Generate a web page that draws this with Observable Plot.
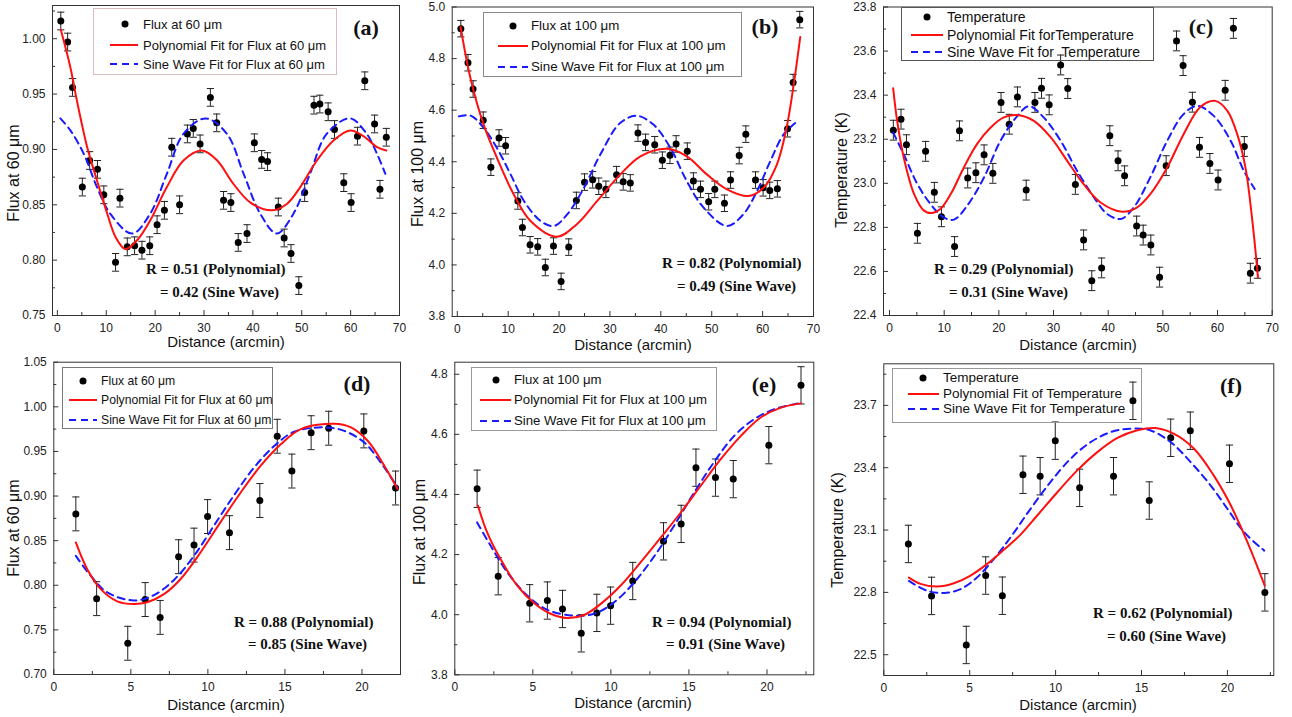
<!DOCTYPE html>
<html><head><meta charset="utf-8">
<script src="https://cdn.jsdelivr.net/npm/d3@7"></script>
<script src="https://cdn.jsdelivr.net/npm/@observablehq/plot@0.6"></script>
<style>
body{margin:0;background:#fff;}
#page{position:relative;width:1292px;height:717px;overflow:hidden;background:#fff;font-family:"Liberation Sans",Arial,sans-serif;color:#111;}
.t{position:absolute;white-space:pre;line-height:1;}
.serif{font-family:"Liberation Serif","Times New Roman",serif;font-weight:bold;}
svg.plot{position:absolute;overflow:visible;}
</style></head><body><div id="page"></div>
<script>
// ---------- DATA ----------
const topDist = [0.7, 2.1, 3.1, 5.1, 6.6, 8.2, 9.5, 11.9, 12.8, 14.3, 15.8, 17.3, 18.9, 20.4, 21.9, 23.4, 25.0, 26.6, 27.8, 29.2, 31.3, 32.6, 34.0, 35.5, 37.0, 38.8, 40.3, 41.8, 43.0, 45.2, 46.4, 47.8, 49.4, 50.6, 52.5, 53.7, 55.4, 56.7, 58.6, 60.1, 61.4, 62.9, 64.9, 66.0, 67.3];
const flux60Top = [1.016, 0.997, 0.956, 0.866, 0.890, 0.882, 0.859, 0.798, 0.856, 0.812, 0.813, 0.809, 0.813, 0.832, 0.845, 0.902, 0.850, 0.914, 0.919, 0.905, 0.947, 0.924, 0.854, 0.852, 0.816, 0.824, 0.906, 0.891, 0.889, 0.848, 0.820, 0.806, 0.777, 0.861, 0.940, 0.941, 0.934, 0.918, 0.870, 0.852, 0.912, 0.962, 0.923, 0.864, 0.911];
const flux100Top = [4.916, 4.784, 4.682, 4.561, 4.379, 4.492, 4.462, 4.248, 4.145, 4.078, 4.070, 3.990, 4.073, 3.936, 4.069, 4.250, 4.321, 4.330, 4.305, 4.293, 4.350, 4.322, 4.318, 4.511, 4.475, 4.466, 4.406, 4.425, 4.469, 4.441, 4.325, 4.293, 4.245, 4.293, 4.239, 4.329, 4.424, 4.507, 4.329, 4.299, 4.289, 4.295, 4.528, 4.707, 4.951];
const tempTop = [23.241, 23.291, 23.175, 22.773, 23.145, 22.959, 22.848, 22.713, 23.238, 23.024, 23.048, 23.129, 23.045, 23.367, 23.268, 23.392, 22.969, 23.367, 23.431, 23.356, 23.537, 23.430, 22.995, 22.743, 22.558, 22.616, 23.216, 23.102, 23.034, 22.806, 22.765, 22.720, 22.574, 23.080, 23.646, 23.534, 23.368, 23.163, 23.090, 23.015, 23.422, 23.703, 23.167, 22.592, 22.614];

const botDist = [1.43, 2.78, 4.8, 5.93, 6.9, 8.1, 9.1, 9.98, 11.4, 13.37, 14.5, 15.45, 16.7, 17.84, 20.12, 22.18];
const flux60Bot = [0.880, 0.785, 0.735, 0.784, 0.764, 0.832, 0.845, 0.877, 0.859, 0.895, 0.967, 0.928, 0.971, 0.976, 0.973, 0.909];
const flux100Bot = [4.419, 4.128, 4.038, 4.047, 4.019, 3.938, 4.006, 4.030, 4.112, 4.244, 4.302, 4.489, 4.456, 4.451, 4.564, 4.763];
const tempBot = [23.033, 22.783, 22.547, 22.881, 22.784, 23.366, 23.359, 23.530, 23.303, 23.359, 23.722, 23.242, 23.544, 23.578, 23.419, 22.800];

// error bar half-lengths per panel a..f
const errHalf = [0.008, 0.032, 0.045, 0.019, 0.062, 0.09];

// fitted curves
const polyAx = [0.7, 2.66, 4, 6.1, 8.1, 10.2, 11.9, 13.9, 16.3, 19, 22.4, 25.8, 29.6, 32.7, 36, 39.5, 43.9, 47, 49.7, 53.1, 56.5, 59.9, 62.6, 65.4, 67.3];
const polyAy = [1.008, 0.974, 0.944, 0.902, 0.872, 0.842, 0.821, 0.810, 0.818, 0.836, 0.866, 0.890, 0.899, 0.890, 0.869, 0.852, 0.845, 0.851, 0.866, 0.890, 0.908, 0.917, 0.912, 0.902, 0.899];
const sineAx = [0.6, 2.7, 5.4, 8.1, 10.8, 15.3, 19, 22.4, 25.8, 30.3, 34.7, 38.1, 41.5, 44.9, 48.3, 51.7, 55.1, 59.9, 63.3, 65.4, 67.1];
const sineAy = [0.928, 0.917, 0.896, 0.866, 0.842, 0.824, 0.842, 0.878, 0.914, 0.928, 0.914, 0.878, 0.842, 0.824, 0.842, 0.878, 0.914, 0.928, 0.914, 0.896, 0.878];

const polyBx = [0.65, 2.6, 5.2, 7.8, 11.1, 14.4, 19.6, 23.5, 27.5, 32, 36, 41.2, 45.1, 49.1, 53, 57.2, 60.2, 62.8, 64.7, 66.1, 67.4];
const polyBy = [4.923, 4.723, 4.543, 4.415, 4.273, 4.170, 4.109, 4.158, 4.248, 4.350, 4.421, 4.450, 4.421, 4.350, 4.293, 4.267, 4.299, 4.389, 4.531, 4.698, 4.884];
const sineBx = [0.3, 2.6, 5.2, 7.8, 10.5, 13.1, 16.4, 19, 21.6, 24.9, 28.1, 32, 35.3, 38.6, 41.9, 45.1, 48.4, 53, 56.2, 58.9, 61.5, 64.1, 66.4];
const sineBy = [4.576, 4.579, 4.531, 4.453, 4.350, 4.248, 4.170, 4.151, 4.196, 4.299, 4.428, 4.550, 4.578, 4.543, 4.453, 4.325, 4.222, 4.151, 4.196, 4.286, 4.402, 4.505, 4.550];

const polyCx = [0.67, 1.4, 2.6, 4.5, 6.3, 7.8, 9.3, 11.2, 13.6, 16, 18.5, 20.9, 23.7, 26.4, 29.5, 32.5, 35.5, 38.6, 42.6, 45.3, 47.7, 50.8, 53.8, 56.9, 59.6, 61.8, 63.6, 65.1, 66.3, 67.4];
const polyCy = [23.431, 23.283, 23.117, 22.951, 22.876, 22.865, 22.883, 22.951, 23.072, 23.178, 23.253, 23.299, 23.309, 23.283, 23.208, 23.102, 22.996, 22.913, 22.871, 22.891, 22.951, 23.072, 23.223, 23.347, 23.374, 23.329, 23.223, 23.072, 22.845, 22.574];
const sineCx = [0.67, 2.6, 5.1, 7.5, 9.9, 11.8, 14.2, 17.3, 20.3, 23.4, 25.5, 28.2, 31.3, 34.3, 37.4, 39.8, 42.3, 44.7, 47.7, 50.8, 53.8, 56.3, 59.3, 62.4, 64.8, 66.8];
const sineCy = [23.23, 23.132, 22.996, 22.906, 22.845, 22.835, 22.898, 23.027, 23.193, 23.306, 23.350, 23.299, 23.193, 23.057, 22.936, 22.861, 22.838, 22.891, 23.027, 23.193, 23.314, 23.351, 23.306, 23.193, 23.057, 22.974];

const polyDx = [1.43, 2.17, 3.03, 4.12, 5.2, 6.07, 7.15, 8.23, 9.53, 10.83, 12.13, 13.43, 14.73, 16.03, 18.2, 19.28, 20.37, 21.45, 22.3];
const polyDy = [0.848, 0.818, 0.796, 0.782, 0.779, 0.781, 0.790, 0.807, 0.837, 0.871, 0.904, 0.934, 0.958, 0.975, 0.981, 0.977, 0.962, 0.934, 0.908];
const sineDx = [1.43, 2.38, 3.47, 5.2, 6.5, 7.8, 9.1, 10.4, 11.7, 13, 14.3, 15.6, 17.55, 18.85, 20.15, 21.2, 22.3];
const sineDy = [0.833, 0.811, 0.792, 0.783, 0.789, 0.806, 0.833, 0.867, 0.901, 0.932, 0.956, 0.972, 0.977, 0.973, 0.960, 0.938, 0.910];

const polyEx = [1.48, 2.07, 2.93, 4.0, 5.07, 6.14, 7.2, 8.28, 9.35, 10.63, 11.9, 13.2, 14.48, 15.76, 17.05, 18.33, 19.6, 20.9, 22.18];
const polyEy = [4.363, 4.274, 4.185, 4.097, 4.039, 4.003, 3.989, 3.999, 4.036, 4.097, 4.174, 4.257, 4.340, 4.429, 4.518, 4.595, 4.656, 4.689, 4.703];
const sineEx = [1.43, 2.29, 3.36, 4.64, 5.93, 7.64, 8.92, 10.2, 11.5, 12.8, 14.05, 15.34, 16.6, 17.9, 19.2, 20.5, 22.0];
const sineEy = [4.307, 4.230, 4.141, 4.064, 4.016, 3.997, 4.003, 4.041, 4.108, 4.196, 4.296, 4.407, 4.507, 4.595, 4.651, 4.684, 4.703];

const polyFx = [1.46, 2.14, 3.1, 4.08, 5.05, 6.02, 7.0, 7.96, 8.93, 10.1, 11.26, 12.43, 13.6, 14.76, 15.8, 16.9, 18.06, 19.2, 20.2, 21.17, 22.17];
const polyFy = [22.871, 22.841, 22.828, 22.844, 22.881, 22.937, 23.006, 23.078, 23.170, 23.282, 23.387, 23.475, 23.543, 23.580, 23.591, 23.563, 23.491, 23.363, 23.218, 23.041, 22.833];
const sineFx = [1.46, 2.52, 3.5, 4.47, 5.44, 6.41, 7.38, 8.54, 9.7, 10.87, 12.04, 13.2, 14.37, 15.5, 16.7, 17.86, 19.03, 20.0, 20.97, 22.14];
const sineFy = [22.855, 22.808, 22.797, 22.816, 22.873, 22.961, 23.065, 23.202, 23.331, 23.443, 23.523, 23.571, 23.588, 23.580, 23.523, 23.427, 23.314, 23.202, 23.090, 23.001];

// tick values
const xTicksTop = [0, 10, 20, 30, 40, 50, 60, 70];
const xMinorTop = [5, 15, 25, 35, 45, 55, 65];
const xTicksBot = [0, 5, 10, 15, 20];
const xMinorBot = [2.5, 7.5, 12.5, 17.5, 22.5];
const yTicksA = [0.75, 0.80, 0.85, 0.90, 0.95, 1.00];
const yMinorA = [0.775, 0.825, 0.875, 0.925, 0.975, 1.025];
const yTicksB = [3.8, 4.0, 4.2, 4.4, 4.6, 4.8, 5.0];
const yMinorB = [3.9, 4.1, 4.3, 4.5, 4.7, 4.9];
const yTicksC = [22.4, 22.6, 22.8, 23.0, 23.2, 23.4, 23.6, 23.8];
const yMinorC = [22.5, 22.7, 22.9, 23.1, 23.3, 23.5, 23.7];
const yTicksD = [0.70, 0.75, 0.80, 0.85, 0.90, 0.95, 1.00, 1.05];
const yMinorD = [0.725, 0.775, 0.825, 0.875, 0.925, 0.975, 1.025];
const yTicksE = [3.8, 4.0, 4.2, 4.4, 4.6, 4.8];
const yMinorE = [3.9, 4.1, 4.3, 4.5, 4.7];
const yTicksF = [22.5, 22.8, 23.1, 23.4, 23.7];
const yMinorF = [22.65, 22.95, 23.25, 23.55, 23.85];

// texts
const xTitle = "Distance (arcmin)";
const yTitles = ["Flux at 60 \u03bcm", "Flux at 100 \u03bcm", "Temperature (K)", "Flux at 60 \u03bcm", "Flux at 100 \u03bcm", "Temperature (K)"];
const legendTexts = [
  ["Flux at 60 \u03bcm", "Polynomial Fit for Flux at 60 \u03bcm", "Sine Wave Fit for Flux at 60 \u03bcm"],
  ["Flux at 100 \u03bcm", "Polynomial Fit for Flux at 100 \u03bcm", "Sine Wave Fit for Flux at 100 \u03bcm"],
  ["Temperature", "Polynomial Fit forTemperature", "Sine Wave Fit for  Temperature"],
  ["Flux at 60 \u03bcm", "Polynomial Fit for Flux at 60 \u03bcm", "Sine Wave Fit for Flux at 60 \u03bcm"],
  ["Flux at 100 \u03bcm", "Polynomial Fit for Flux at 100 \u03bcm", "Sine Wave Fit for Flux at 100 \u03bcm"],
  ["Temperature", "Polynomial Fit of Temperature", "Sine Wave Fit for Temperature"]
];
const rPoly = ["0.51", "0.82", "0.29", "0.88", "0.94", "0.62"];
const rSine = ["0.42", "0.49", "0.31", "0.85", "0.91", "0.60"];
const panelLabels = ["(a)", "(b)", "(c)", "(d)", "(e)", "(f)"];

// ---------- LAYOUT ----------
const f2 = d3.format(".2f"), f1 = d3.format(".1f");
const panels = [
  {svg:[0,0,430,355], m:[5,31,40,52], xd:[-1,70], yd:[0.75,1.03], xt:xTicksTop, xm:xMinorTop, yt:yTicksA, ym:yMinorA, fmt:f2,
   dist:topDist, vals:flux60Top, px:polyAx, py:polyAy, sx:sineAx, sy:sineAy,
   leg:{box:[93,8,337,75], border:"#d9bcbc", dot:125, l1:110, l2:138, tx:143, rows:[24,45,64], fs:13},
   r1:[146,269], r2:[160,292], lab:[366,28], xT:[226,341], yT:[14,173]},
  {svg:[420,0,440,355], m:[6.5,47,39,31.7], xd:[-1,70], yd:[3.8,5.0], xt:xTicksTop, xm:xMinorTop, yt:yTicksB, ym:yMinorB, fmt:f1,
   dist:topDist, vals:flux100Top, px:polyBx, py:polyBy, sx:sineBx, sy:sineBy,
   leg:{box:[483,12,742,77], border:"#8a8a8a", dot:513, l1:498, l2:528, tx:531, rows:[26,46,67], fs:13.3},
   r1:[662,263], r2:[677,286], lab:[765,27], xT:[633,344], yT:[418,174]},
  {svg:[850,0,442,355], m:[6.5,20.3,40,33], xd:[-1.1,70], yd:[22.4,23.8], xt:xTicksTop, xm:xMinorTop, yt:yTicksC, ym:yMinorC, fmt:f1,
   dist:topDist, vals:tempTop, px:polyCx, py:polyCy, sx:sineCx, sy:sineCy,
   leg:{box:[901,7,1154,61], border:"#555", dot:927, l1:911, l2:943, tx:947, rows:[17,35,52], fs:14},
   r1:[934,269], r2:[949,292], lab:[1201,27], xT:[1078,344], yT:[842,170]},
  {svg:[0,355,430,362], m:[6.7,30,43,53.3], xd:[0,22.5], yd:[0.70,1.05], xt:xTicksBot, xm:xMinorBot, yt:yTicksD, ym:yMinorD, fmt:f2,
   dist:botDist, vals:flux60Bot, px:polyDx, py:polyDy, sx:sineDx, sy:sineDy,
   leg:{box:[62,367,273,429], border:"#777", dot:83, l1:69, l2:97, tx:101, rows:[381,400,420], fs:12.2},
   r1:[234,622], r2:[248,644], lab:[357,384], xT:[226,704], yT:[14,528]},
  {svg:[420,355,440,362], m:[6.7,46.7,42.7,34.3], xd:[0,23], yd:[3.8,4.84], xt:xTicksBot, xm:xMinorBot, yt:yTicksE, ym:yMinorE, fmt:f1,
   dist:botDist, vals:flux100Bot, px:polyEx, py:polyEy, sx:sineEx, sy:sineEy,
   leg:{box:[471,367,717,431], border:"#999", dot:496, l1:480, l2:511, tx:514, rows:[380,400,421], fs:13.2},
   r1:[652,622], r2:[666,644], lab:[764,385], xT:[633,702], yT:[420,532]},
  {svg:[850,355,442,362], m:[8.3,18.7,42,33.3], xd:[0,22.7], yd:[22.4,23.9], xt:xTicksBot, xm:xMinorBot, yt:yTicksF, ym:yMinorF, fmt:f1,
   dist:botDist, vals:tempBot, px:polyFx, py:polyFy, sx:sineFx, sy:sineFy,
   leg:{box:[892,368,1142,423], border:"#999", dot:923, l1:908, l2:939, tx:943, rows:[378,394,409], fs:13.5},
   r1:[1093,613], r2:[1107,636], lab:[1231,386], xT:[1078,704], yT:[838,530]}
];

const page = document.getElementById("page");
const capSymbol = {draw(ctx){ ctx.moveTo(-3.6, 0); ctx.lineTo(3.6, 0); }};
const RED = "#ff1010", BLUE = "#1a1aff", AX = "#333";

function addText(str, x, y, cls, style, tf) {
  const s = document.createElement("div");
  s.className = "t " + (cls || "");
  s.textContent = str;
  s.style.left = x + "px"; s.style.top = y + "px";
  s.style.transform = tf || "translate(0,-50%)";
  Object.assign(s.style, style || {});
  page.appendChild(s);
  return s;
}

panels.forEach((p, k) => {
  const [sl, st, sw, sh] = p.svg;
  const [mt, mr, mb, ml] = p.m;
  const iw = sw - ml - mr, ih = sh - mt - mb;
  const e = errHalf[k];
  const pts = p.dist.map((x, i) => ({x, y: p.vals[i], lo: p.vals[i] - e, hi: p.vals[i] + e}));
  const poly = p.px.map((x, i) => ({x, y: p.py[i]}));
  const sine = p.sx.map((x, i) => ({x, y: p.sy[i]}));
  const svg = Plot.plot({
    width: sw, height: sh,
    marginTop: mt, marginRight: mr, marginBottom: mb, marginLeft: ml,
    style: {fontFamily: '"Liberation Sans", Arial, sans-serif', fontSize: "12px", background: "transparent", overflow: "visible"},
    x: {domain: p.xd}, y: {domain: p.yd},
    marks: [
      Plot.axisX(p.xt, {tickSize: 0, tickPadding: 8, label: null, tickFormat: d => String(d), fill: "#222"}),
      Plot.axisY(p.yt, {tickSize: 0, tickPadding: 7, label: null, tickFormat: p.fmt, fill: "#222"}),
      Plot.tickX(p.xt, {x: d => d, insetTop: ih - 5, stroke: AX}),
      Plot.tickX(p.xm, {x: d => d, insetTop: ih - 3, stroke: AX}),
      Plot.tickY(p.yt, {y: d => d, insetRight: iw - 5, stroke: AX}),
      Plot.tickY(p.ym, {y: d => d, insetRight: iw - 3, stroke: AX}),
      Plot.ruleX(pts, {x: "x", y1: "lo", y2: "hi", stroke: "#222", strokeWidth: 1}),
      Plot.dot(pts, {x: "x", y: "hi", symbol: capSymbol, r: 3, stroke: "#222", fill: "none", strokeWidth: 1}),
      Plot.dot(pts, {x: "x", y: "lo", symbol: capSymbol, r: 3, stroke: "#222", fill: "none", strokeWidth: 1}),
      Plot.dot(pts, {x: "x", y: "y", r: 3.5, fill: "#000", stroke: null}),
      Plot.line(sine, {x: "x", y: "y", stroke: BLUE, strokeWidth: 2, strokeDasharray: "7,5", curve: "catmull-rom"}),
      Plot.line(poly, {x: "x", y: "y", stroke: RED, strokeWidth: 2, curve: "catmull-rom"}),
      Plot.frame({stroke: AX, strokeWidth: 1})
    ]
  });
  svg.setAttribute("class", "plot");
  svg.style.left = sl + "px"; svg.style.top = st + "px";
  page.appendChild(svg);

  // legend
  const L = p.leg;
  const box = document.createElement("div");
  box.style.cssText = `position:absolute;left:${L.box[0]}px;top:${L.box[1]}px;width:${L.box[2]-L.box[0]}px;height:${L.box[3]-L.box[1]}px;border:1px solid ${L.border};box-sizing:border-box;`;
  page.appendChild(box);
  const ls = document.createElementNS("http://www.w3.org/2000/svg", "svg");
  ls.setAttribute("width", 1292); ls.setAttribute("height", 717);
  ls.style.cssText = "position:absolute;left:0;top:0;overflow:visible;pointer-events:none;";
  ls.innerHTML = `<circle cx="${L.dot}" cy="${L.rows[0]}" r="3.5" fill="#000"/>
    <line x1="${L.l1}" x2="${L.l2}" y1="${L.rows[1]}" y2="${L.rows[1]}" stroke="${RED}" stroke-width="2"/>
    <line x1="${L.l1}" x2="${L.l2}" y1="${L.rows[2]}" y2="${L.rows[2]}" stroke="${BLUE}" stroke-width="2" stroke-dasharray="7,5"/>`;
  page.appendChild(ls);
  legendTexts[k].forEach((s, i) => addText(s, L.tx, L.rows[i], "", {fontSize: L.fs + "px"}));

  // R annotations, panel label
  addText("R = " + rPoly[k] + " (Polynomial)", p.r1[0], p.r1[1], "serif", {fontSize: "15px"});
  addText("= " + rSine[k] + " (Sine Wave)", p.r2[0], p.r2[1], "serif", {fontSize: "15px"});
  addText(panelLabels[k], p.lab[0], p.lab[1], "serif", {fontSize: "22px"}, "translate(-50%,-50%)");

  // axis titles
  addText(xTitle, p.xT[0], p.xT[1], "", {fontSize: "15px"}, "translate(-50%,-50%)");
  addText(yTitles[k], p.yT[0], p.yT[1], "", {fontSize: "16px"}, "translate(-50%,-50%) rotate(-90deg)");
});
</script>
</body></html>
